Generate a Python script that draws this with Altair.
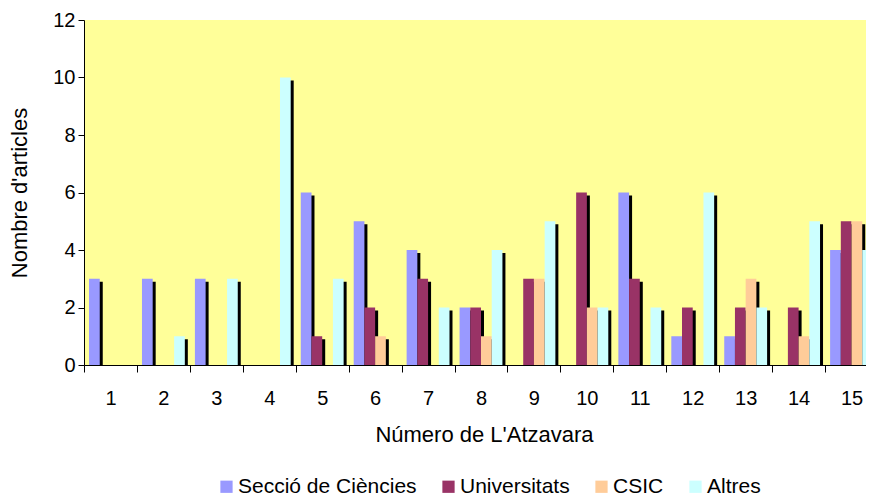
import altair as alt
import pandas as pd

categories = ["1", "2", "3", "4", "5", "6", "7", "8", "9", "10", "11", "12", "13", "14", "15"]
series_names = ["Secció de Ciències", "Universitats", "CSIC", "Altres"]
series_colors = ["#9999FF", "#993366", "#FFCC99", "#CCFFFF"]

seccio = [3, 3, 3, 0, 6, 5, 4, 2, 0, 0, 6, 1, 1, 0, 4]
universitats = [0, 0, 0, 0, 1, 2, 3, 2, 3, 6, 3, 2, 2, 2, 5]
csic = [0, 0, 0, 0, 0, 1, 0, 1, 3, 2, 0, 0, 3, 1, 5]
altres = [0, 1, 3, 10, 3, 0, 2, 4, 5, 2, 2, 6, 2, 5, 4]

y_ticks = [0, 2, 4, 6, 8, 10, 12]

rows = []
for i, c in enumerate(categories):
    for name, vals in zip(series_names, [seccio, universitats, csic, altres]):
        rows.append({"num": c, "serie": name, "valor": vals[i]})
df = pd.DataFrame(rows)

FONT = "Liberation Sans"

# The original chart is wider than the window and is cut at the right edge:
# the category axis spans FULL_W pixels while only VIEW_W are visible.
FULL_W = 794
VIEW_W = 782
STEP = FULL_W / len(categories)
SHADOW = 3

x_enc = alt.X(
    "num:N",
    sort=categories,
    scale=alt.Scale(range=[0, FULL_W], paddingInner=0, paddingOuter=0),
    axis=alt.Axis(
        title="Número de L'Atzavara",
        labelAngle=0,
        tickBand="extent",
        tickSize=7,
        labelPadding=16,
        titlePadding=16,
        labelFontSize=20,
        titleFontSize=22,
        titleX=400,
    ),
)
y_enc = alt.Y(
    "valor:Q",
    scale=alt.Scale(domain=[0, 12], nice=False),
    axis=alt.Axis(
        title="Nombre d'articles",
        values=y_ticks,
        grid=False,
        tickSize=6,
        labelPadding=3,
        titlePadding=21,
        labelFontSize=20,
        titleFontSize=22,
    ),
)

shadow = (
    alt.Chart(df)
    .transform_filter("datum.valor > 0")
    .mark_bar(color="black", yOffset=SHADOW, y2Offset=1, clip=True)
    .encode(
        x=x_enc,
        xOffset=alt.XOffset(
            "serie:N",
            sort=series_names,
            scale=alt.Scale(domain=series_names, range=[SHADOW, STEP + SHADOW],
                            paddingInner=0, paddingOuter=0.47),
        ),
        y=y_enc,
    )
)

bars = (
    alt.Chart(df)
    .transform_filter("datum.valor > 0")
    .mark_bar(clip=True)
    .encode(
        x=x_enc,
        xOffset=alt.XOffset(
            "serie:N",
            sort=series_names,
            scale=alt.Scale(domain=series_names, range=[0, STEP],
                            paddingInner=0, paddingOuter=0.47),
        ),
        y=y_enc,
        color=alt.Color(
            "serie:N",
            sort=series_names,
            scale=alt.Scale(domain=series_names, range=series_colors),
            legend=alt.Legend(
                title=None,
                orient="none",
                legendX=132,
                legendY=456,
                direction="horizontal",
                symbolType="square",
                symbolSize=150,
                symbolStrokeWidth=0,
                symbolOpacity=1,
                labelFontSize=21,
                labelOffset=1,
                labelLimit=0,
                columnPadding=21,
            ),
        ),
    )
)

chart = (
    alt.layer(shadow, bars)
    .resolve_scale(xOffset="independent")
    .properties(
        width=VIEW_W,
        height=345,
        autosize=alt.AutoSizeParams(type="none"),
        padding={"left": 76, "top": 12, "right": 0, "bottom": 134},
    )
    .configure_view(fill="#FFFF99", stroke=None)
    .configure_axis(
        domainColor="black",
        tickColor="black",
        labelColor="black",
        titleColor="black",
        labelFont=FONT,
        titleFont=FONT,
        titleFontWeight="normal",
    )
    .configure_legend(labelFont=FONT, labelColor="black")
)

chart.save("out.html", embed_options={"renderer": "svg", "actions": False})
